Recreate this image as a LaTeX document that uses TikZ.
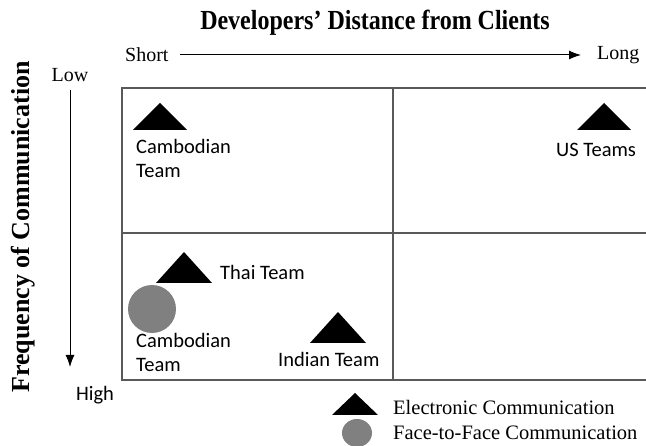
\documentclass[tikz,border=0pt]{standalone}
\usepackage{fontspec}
\setmainfont{Liberation Serif}
\newfontfamily\calib{Carlito}
\usetikzlibrary{arrows.meta}
\tikzset{
  grid line/.style={draw=black!65, line width=1.3pt},
  axis arrow/.style={draw=black, line width=1pt, -{Latex[length=12pt,width=9pt]}},
  serif lbl/.style={font=\fontsize{20}{22}\selectfont, inner sep=0pt},
  sans lbl/.style={font=\calib\fontsize{20.5}{24}\selectfont, inner sep=0pt, align=left},
  title lbl/.style={font=\bfseries\fontsize{24}{26}\selectfont, inner sep=0pt},
  legend lbl/.style={font=\fontsize{20.5}{24}\selectfont, inner sep=0pt, anchor=west},
  tri/.pic={\fill[black] (-27,13) -- (0,-14) -- (27,13) -- cycle;},
  bigtri/.pic={\fill[black] (-28,15.5) -- (0,-15.5) -- (28,15.5) -- cycle;},
  smalltri/.pic={\fill[black] (-23,11) -- (0,-11) -- (23,11) -- cycle;},
}
\begin{document}
\begin{tikzpicture}[x=1pt,y=-1pt]
\useasboundingbox (0,0) rectangle (646,446);
% title and horizontal axis
\node[title lbl, yscale=1.15] (title) at (375,23) {Developers' Distance from Clients};
\node[serif lbl, anchor=west] (short) at (125,55) {Short};
\node[serif lbl, anchor=west] (long) at (597,55) {Long};
\draw[axis arrow] ([xshift=11pt]short.east) -- ([xshift=-16pt]long.west);
% vertical axis
\node[title lbl, font=\bfseries\fontsize{26}{28}\selectfont, rotate=90] (freq) at (23,227) {Frequency of Communication};
\node[serif lbl] (low) at (70,75) {Low};
\node[sans lbl] (high) at (95,395) {High};
\coordinate (vtop) at (70,90);
\coordinate (vbot) at (70,367);
\draw[axis arrow] (vtop) -- (vbot);
% grid
\coordinate (tl) at (122,88);
\coordinate (bl) at (122,380);
\coordinate (tr) at (646,88);
\coordinate (br) at (646,380);
\draw[grid line] (tr) -- (tl) -- (bl) -- (br);
\draw[grid line] (393,88) -- (393,380);
\draw[grid line] (122,233) -- (646,233);
% top-left quadrant
\pic at (160,117) {tri};
\node[sans lbl, anchor=north west] (camb1) at (136,139) {Cambodian\\Team};
% top-right quadrant
\pic at (604,117) {tri};
\node[sans lbl, anchor=west] (us) at (556,150) {US Teams};
% bottom-left quadrant
\pic at (184,267.5) {bigtri};
\node[sans lbl, anchor=west] (thai) at (220,272) {Thai Team};
\fill[black!50] (152,309) circle (24);
\node[sans lbl, anchor=north west] (camb2) at (136,333) {Cambodian\\Team};
\pic at (338,327.5) {bigtri};
\node[sans lbl, anchor=west] (indian) at (278,359) {Indian Team};
% legend
\pic at (355,404) {smalltri};
\node[legend lbl] (elec) at (393,407) {Electronic Communication};
\fill[black!50] (357,433) ellipse (15 and 14);
\node[legend lbl] (f2f) at (393,433) {Face-to-Face Communication};
\end{tikzpicture}
\end{document}
